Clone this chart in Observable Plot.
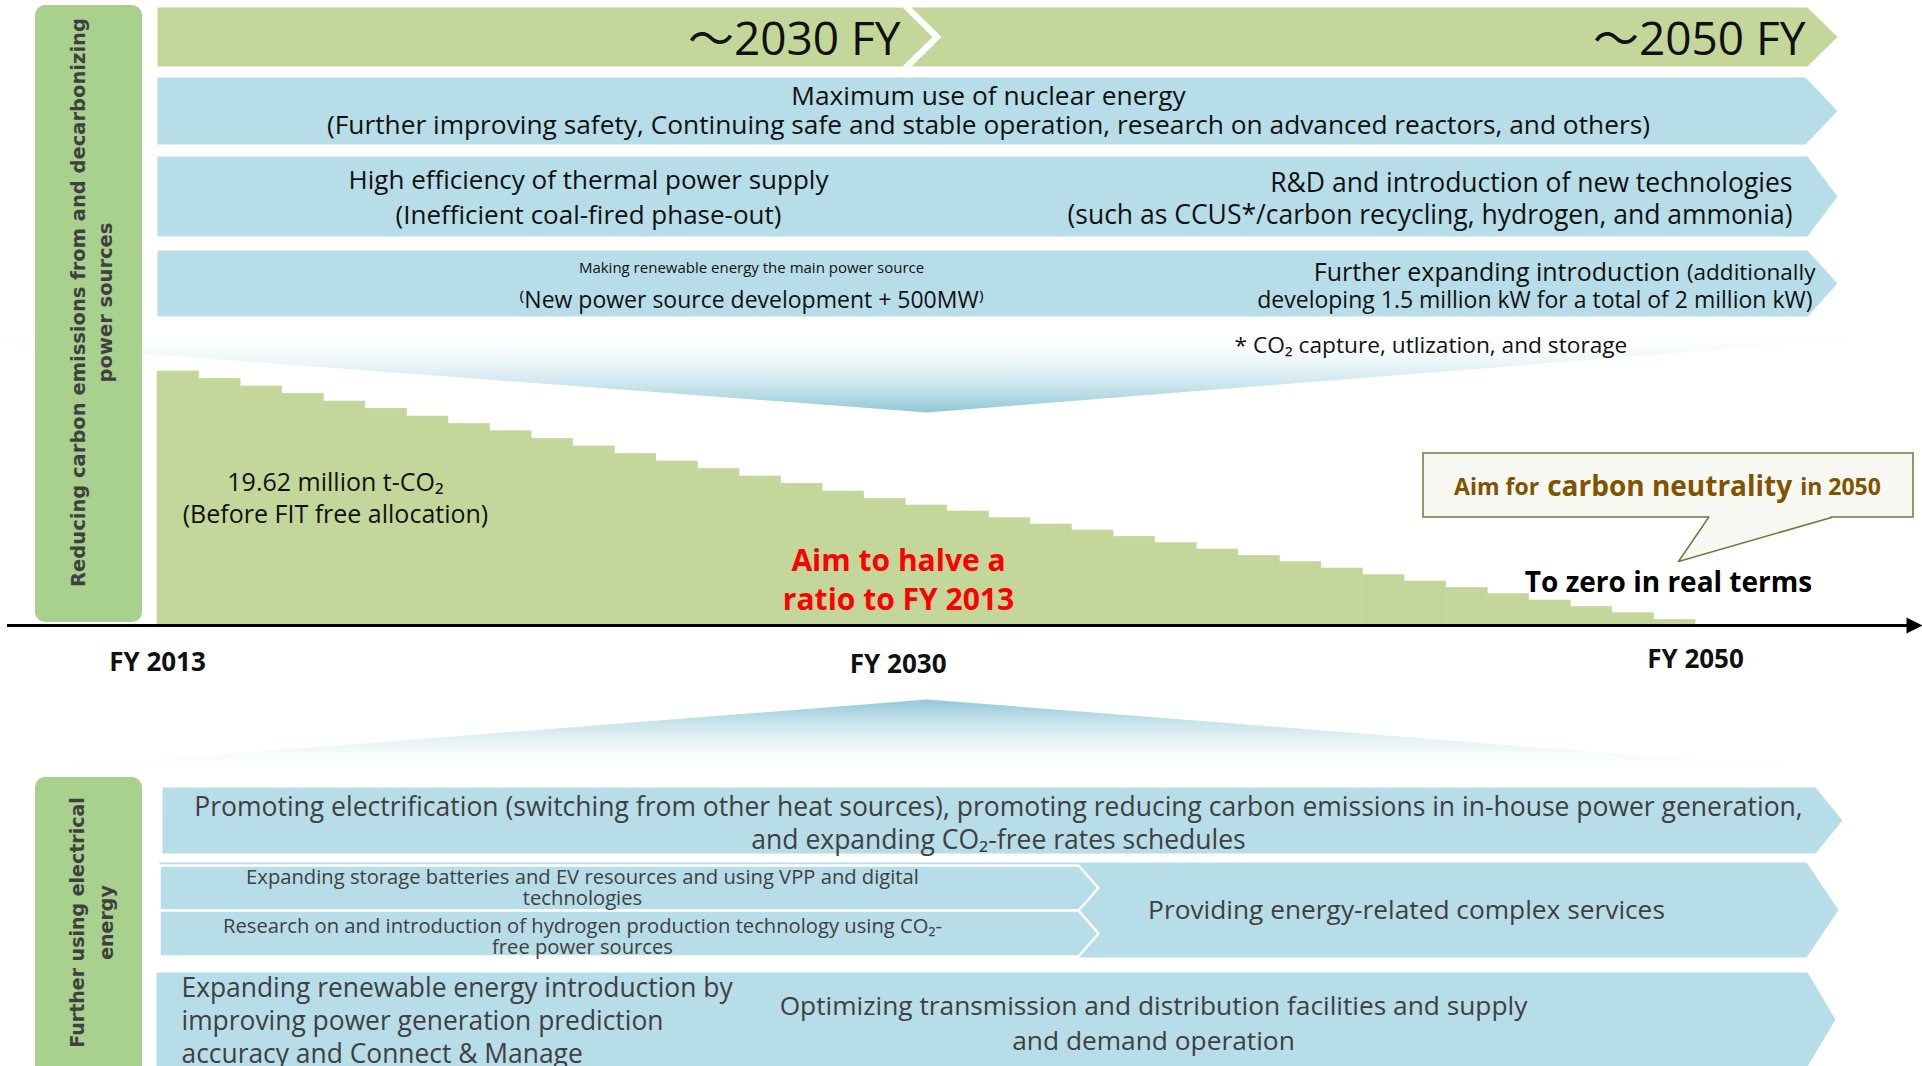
<!DOCTYPE html>
<html>
<head>
<meta charset="utf-8">
<script src="https://cdn.jsdelivr.net/npm/d3@7"></script>
<script src="https://cdn.jsdelivr.net/npm/@observablehq/plot@0.6"></script>
<style>
html, body { margin: 0; padding: 0; background: #fff; overflow: hidden; }
#chart { position: relative; width: 1922px; height: 1066px; }
#chart svg { display: block; }
</style>
</head>
<body>
<div id="chart"></div>
<script>
// ---------------- data ----------------
const years = [2013, 2014, 2015, 2016, 2017, 2018, 2019, 2020, 2021, 2022, 2023, 2024, 2025,
  2026, 2027, 2028, 2029, 2030, 2031, 2032, 2033, 2034, 2035, 2036, 2037, 2038, 2039, 2040,
  2041, 2042, 2043, 2044, 2045, 2046, 2047, 2048, 2049];
// million t-CO2, read from the staircase
const emissions = [19.62, 19.06, 18.46, 17.90, 17.30, 16.74, 16.14, 15.58, 15.01, 14.42, 13.83, 13.26, 12.67,
  12.10, 11.51, 10.95, 10.35, 9.79, 9.27, 8.81, 8.29, 7.80, 7.34, 6.85, 6.36, 5.87, 5.38, 4.89,
  4.40, 3.89, 3.40, 2.91, 2.42, 1.93, 1.44, 0.95, 0.44];
const tickYears = [2013, 2030, 2050];
const tickLabels = ["FY 2013", "FY 2030", "FY 2050"];
const periodLabels = ["～2030 FY", "～2050 FY"];
const sectionLabels = ["Reducing carbon emissions from and decarbonizing\npower sources", "Further using electrical\nenergy"];
const nuclearText = "Maximum use of nuclear energy\n(Further improving safety, Continuing safe and stable operation, research on advanced reactors, and others)";
const thermalLeft = "High efficiency of thermal power supply\n(Inefficient coal-fired phase-out)";
const thermalRight = "R&D and introduction of new technologies\n(such as CCUS*/carbon recycling, hydrogen, and ammonia)";
const renewSmall = "Making renewable energy the main power source";
const renewLeft = "⁽New power source development + 500MW⁾";
const renewRight1a = "Further expanding introduction";
const renewRight1b = "(additionally";
const renewRight2 = "developing 1.5 million kW for a total of 2 million kW)";
const footnote = "* CO₂ capture, utlization, and storage";
const baseNote = " million t-CO₂\n(Before FIT free allocation)";
const halveText = "Aim to halve a\nratio to FY 2013";
const zeroText = "To zero in real terms";
const calloutParts = ["Aim for", "carbon neutrality", "in 2050"];
const electrifyText = "Promoting electrification (switching from other heat sources), promoting reducing carbon emissions in in-house power generation,\nand expanding CO₂-free rates schedules";
const storageText = "Expanding storage batteries and EV resources and using VPP and digital\ntechnologies";
const hydrogenText = "Research on and introduction of hydrogen production technology using CO₂-\nfree power sources";
const servicesText = "Providing energy-related complex services";
const gridLeftText = "Expanding renewable energy introduction by\nimproving power generation prediction\naccuracy and Connect & Manage";
const gridMidText = "Optimizing transmission and distribution facilities and supply\nand demand operation";

// ---------------- layout ----------------
const W = 1922, H = 1066;
const PX0 = 157, PX1 = 1695;   // pixel of FY2013 and FY2050
const PY0 = 625, PYT = 371;    // pixel of 0 and of the FY2013 value
const X = px => 2013 + (px - PX0) * (2050 - 2013) / (PX1 - PX0);
const Y = py => (PY0 - py) * emissions[0] / (PY0 - PYT);

const BODY = "'Open Sans', 'Noto Sans', sans-serif";
const GREEN = "#c4d79b", BLUE = "#b7dde8", BOX = "#a9d18e";

const ctx = document.createElement("canvas").getContext("2d");
function tw(s, size, weight = "normal") { ctx.font = `${weight} ${size}px "Open Sans"`; return ctx.measureText(s).width; }

function polys(list, opts) {
  const data = [];
  list.forEach((pts, k) => pts.forEach(([px, py]) => data.push({k, x: X(px), y: Y(py)})));
  return Plot.line(data, {x: "x", y: "y", z: "k", curve: "linear-closed", stroke: "none", ...opts});
}
function label(text, px, py, o = {}) {
  return Plot.text([text], {x: () => X(px), y: () => Y(py), text: d => d, fontFamily: BODY, fontSize: 26, fill: "#111", ...o});
}

const stairs = years.map((year, i) => ({year, value: emissions[i]}));
const ticks = tickYears.map((year, i) => ({year, label: tickLabels[i]}));

// callout pieces
const cSizes = [23, 28, 23], cGap = 8;
const cW = calloutParts.map((s, i) => tw(s, cSizes[i], "bold"));
const cTotal = cW[0] + cW[1] + cW[2] + 2 * cGap;
let cx = 1667 - cTotal / 2;
const cStarts = cW.map(w => { const s = cx; cx += w + cGap; return s; });

// renewables right line 1 (mixed sizes)
const r1bW = tw(renewRight1b, 22.5);

const sectionFont = {rotate: -90, fontFamily: "'DejaVu Sans', sans-serif", fontWeight: "bold", fontSize: 19.5, fill: "#404040", ariaLabel: "section-label"};

const marks = [
  // funnels
  polys([[[5, 326], [1845, 326], [1845, 339], [927, 412], [5, 343]]], {fill: "url(#fadeDown)"}),
  polys([[[927, 699], [1845, 771], [1845, 776], [5, 776], [5, 771]]], {fill: "url(#fadeUp)"}),
  // section boxes
  Plot.rect([[35, 5, 142, 622], [35, 777, 142, 1090]], {
    x1: d => X(d[0]), x2: d => X(d[2]), y1: d => Y(d[1]), y2: d => Y(d[3]),
    rx: 10, fill: BOX, ariaLabel: "section-box"
  }),
  // period arrow
  polys([
    [[157, 7], [902, 7], [932, 36.5], [902, 66], [157, 66]],
    [[911, 7], [1807, 7], [1837, 36.5], [1807, 66], [911, 66], [941, 36.5]]
  ], {fill: GREEN}),
  // blue chevrons
  polys([
    [[157, 77], [1805, 77], [1837, 110.5], [1805, 144], [157, 144]],
    [[157, 156], [1807, 156], [1837, 196], [1807, 236], [157, 236]],
    [[157, 250], [1807, 250], [1837, 283], [1807, 316], [157, 316]],
    [[162, 787], [1815, 787], [1842, 820], [1815, 853], [162, 853]],
    [[159, 862], [1806, 862], [1838, 909.5], [1806, 957], [159, 957]],
    [[156, 972], [1807, 972], [1835, 1019], [1807, 1066], [156, 1066]]
  ], {fill: BLUE}),
  polys([
    [[159, 865], [1078, 865], [1098, 887.5], [1078, 910], [159, 910]],
    [[159, 910], [1078, 910], [1098, 933], [1078, 956], [159, 956]]
  ], {fill: BLUE, stroke: "#ffffff", strokeWidth: 2.5, strokeLinejoin: "miter"}),

  // staircase (data)
  Plot.rect(stairs, {x1: "year", x2: d => d.year + 1, y1: d => 0, y2: "value", fill: GREEN, stroke: GREEN, strokeWidth: 0.6}),
  // axis
  Plot.ruleY([0], {x1: () => X(7), x2: () => X(1910), stroke: "#000", strokeWidth: 3}),
  polys([[[1906, 617], [1922, 625], [1906, 633]]], {fill: "#000"}),
  Plot.text(ticks.filter(d => d.year === 2013), {x: "year", y: d => 0, text: "label", dy: 37,
    fontFamily: BODY, fontSize: 26, fontWeight: "bold", fill: "#111"}),
  Plot.text(ticks.filter(d => d.year === 2030), {x: "year", y: d => 0, text: "label", dy: 39, dx: 34,
    fontFamily: BODY, fontSize: 26, fontWeight: "bold", fill: "#111"}),
  Plot.text(ticks.filter(d => d.year === 2050), {x: "year", y: d => 0, text: "label", dy: 34,
    fontFamily: BODY, fontSize: 26, fontWeight: "bold", fill: "#111"}),

  // period labels
  label(periodLabels[0], 900, 40, {fontSize: 46, textAnchor: "end", fontFamily: "'Open Sans', 'Noto Sans CJK JP', sans-serif"}),
  label(periodLabels[1], 1805, 40, {fontSize: 46, textAnchor: "end", fontFamily: "'Open Sans', 'Noto Sans CJK JP', sans-serif"}),

  // section labels
  label(sectionLabels[0], 89, 302, {...sectionFont, lineHeight: 1.4}),
  label(sectionLabels[1], 89, 922, {...sectionFont, fontSize: 19, lineHeight: 1.5}),

  // supply rows
  label(nuclearText, 988, 109.5, {fontSize: 26.3, lineHeight: 1.1}),
  label(thermalLeft, 588, 194.5, {lineHeight: 1.35}),
  label(thermalRight, 1792, 197.5, {fontSize: 26.5, lineHeight: 1.18, textAnchor: "end"}),
  label(renewSmall, 751, 268, {fontSize: 15}),
  label(renewLeft, 751, 300, {fontSize: 23}),
  label(renewRight1b, 1815, 272, {fontSize: 22.5, textAnchor: "end"}),
  label(renewRight1a, 1815 - r1bW - 7, 272, {fontSize: 25, textAnchor: "end"}),
  label(renewRight2, 1812, 300, {fontSize: 23, textAnchor: "end"}),
  label(footnote, 1234, 345, {fontSize: 22.7, textAnchor: "start"}),

  // chart annotations
  label(emissions[0].toFixed(2) + baseNote, 335, 496, {fontSize: 25, lineHeight: 1.28}),
  label(halveText, 898, 577.5, {fontSize: 30, fontWeight: "bold", fill: "#ff0000", lineHeight: 1.3}),
  label(zeroText, 1668, 583, {fontSize: 28, fontWeight: "bold", fill: "#000"}),

  // callout
  Plot.rect([0], {x1: () => X(1423), x2: () => X(1913), y1: () => Y(453), y2: () => Y(517), fill: "#f7f8f2", stroke: "#6b7b3a", strokeWidth: 1.5}),
  polys([[[1709, 515.5], [1709, 517], [1678, 561], [1830, 517], [1830, 515.5]]], {fill: "#f7f8f2"}),
  Plot.line([[1708, 517], [1678, 561], [1831, 517]], {x: d => X(d[0]), y: d => Y(d[1]), stroke: "#6b7b3a", strokeWidth: 1.5}),
  ...calloutParts.map((s, i) => label(s, cStarts[i], 487, {fontSize: cSizes[i], fontWeight: "bold", fill: "#7f5300", textAnchor: "start"})),

  // electrical energy rows
  label(electrifyText, 998, 821.5, {fontSize: 26.5, lineHeight: 1.25, fill: "#404040"}),
  label(storageText, 582, 887.5, {fontSize: 20.2, lineHeight: 1.05, fill: "#404040"}),
  label(hydrogenText, 582, 936, {fontSize: 20.2, lineHeight: 1.05, fill: "#404040"}),
  label(servicesText, 1406, 910, {fontSize: 26.3, fill: "#404040"}),
  label(gridLeftText, 181, 1019, {fontSize: 26.4, lineHeight: 1.25, textAnchor: "start", fill: "#404040"}),
  label(gridMidText, 1153, 1021, {fontSize: 26.3, lineHeight: 1.3, fill: "#404040"})
];

const svg = Plot.plot({
  width: W, height: H, margin: 0,
  style: {background: "#fff", fontFamily: BODY, overflow: "hidden"},
  x: {axis: null, domain: [2013, 2050], range: [PX0, PX1]},
  y: {axis: null, domain: [0, emissions[0]], range: [PY0, PYT]},
  marks
});

const s = d3.select(svg);
const defs = s.insert("defs", ":first-child");
const gd = defs.append("linearGradient").attr("id", "fadeDown").attr("x1", 0).attr("y1", 0).attr("x2", 0).attr("y2", 1);
gd.append("stop").attr("offset", "0%").attr("stop-color", "#ffffff").attr("stop-opacity", 0);
gd.append("stop").attr("offset", "100%").attr("stop-color", "#8fc7d7");
const gu = defs.append("linearGradient").attr("id", "fadeUp").attr("x1", 0).attr("y1", 0).attr("x2", 0).attr("y2", 1);
gu.append("stop").attr("offset", "0%").attr("stop-color", "#8fc7d7");
gu.append("stop").attr("offset", "100%").attr("stop-color", "#ffffff").attr("stop-opacity", 0);

s.selectAll('g[aria-label="section-box"]').style("filter", "drop-shadow(4px 3px 3px rgba(0,0,0,0.35))");
s.selectAll('g[aria-label="section-label"] text').style("letter-spacing", "1.1px").style("word-spacing", "4px");

document.getElementById("chart").appendChild(svg);
</script>
</body>
</html>
